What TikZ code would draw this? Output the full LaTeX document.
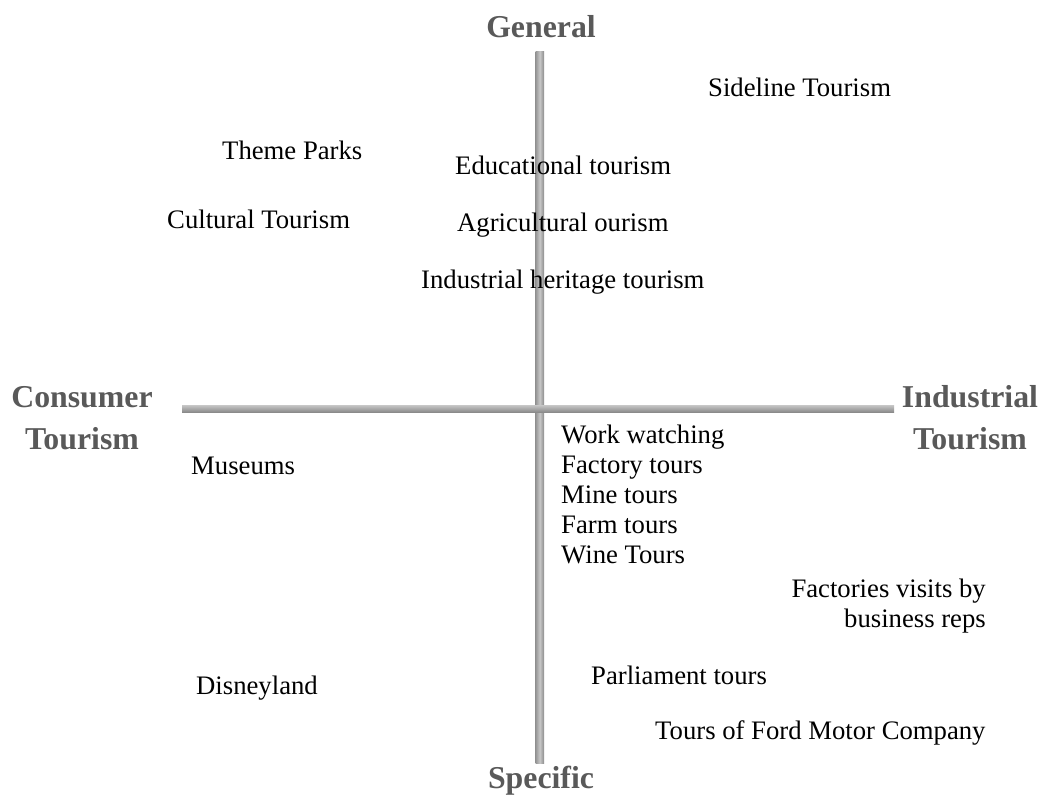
\documentclass[tikz,border=0pt]{standalone}
\usepackage{fontspec}
\setmainfont{Liberation Serif}
\begin{document}
\begin{tikzpicture}[x=1pt,y=-1pt,
  item/.style={inner sep=0pt,font=\fontsize{26.7}{30}\selectfont,text=black},
  pole/.style={inner sep=0pt,font=\bfseries\fontsize{31.8}{42}\selectfont,text=black!65,align=center},
  barv/.style={left color=black!42,right color=black!45,middle color=black!22,draw=none},
  barh/.style={top color=black!22,bottom color=black!47,draw=none}]
\useasboundingbox (0,0) rectangle (1051,802);
% axes
\coordinate (vtop) at (535.5,52);
\coordinate (vbot) at (544,763);
\coordinate (hl) at (182,405);
\coordinate (hr) at (894,412.5);
\shade[barv] (vtop) rectangle (vbot);
\shade[barh] (hl) rectangle (hr);
% poles
\node[pole] (gen) at (541,27) {General};
\node[pole] (spec) at (541,781) {Specific};
\node[pole] (cons) at (82,418) {Consumer\\Tourism};
\node[pole] (ind) at (970,418) {Industrial\\Tourism};
% items
\node[item,anchor=west] (side) at (708,87) {Sideline Tourism};
\node[item,anchor=west] (theme) at (222,150) {Theme Parks};
\node[item,anchor=west] (edu) at (455,165) {Educational tourism};
\node[item,anchor=west] (cult) at (167,219) {Cultural Tourism};
\node[item,anchor=west] (agri) at (457,225) {Agricultural ourism};
\node[item,anchor=west] (herit) at (421,282) {Industrial heritage tourism};
\node[item,anchor=north west,align=left] (work) at (561,424.5) {Work watching\\Factory tours\\Mine tours\\Farm tours\\Wine Tours};
\node[item,anchor=west] (mus) at (191,466) {Museums};
\node[item,anchor=north east,align=right] (fact) at (986,579) {Factories visits by\\business reps};
\node[item,anchor=west] (parl) at (591,675) {Parliament tours};
\node[item,anchor=west] (disn) at (196,688) {Disneyland};
\node[item,anchor=west] (ford) at (655,733) {Tours of Ford Motor Company};
\end{tikzpicture}
\end{document}
